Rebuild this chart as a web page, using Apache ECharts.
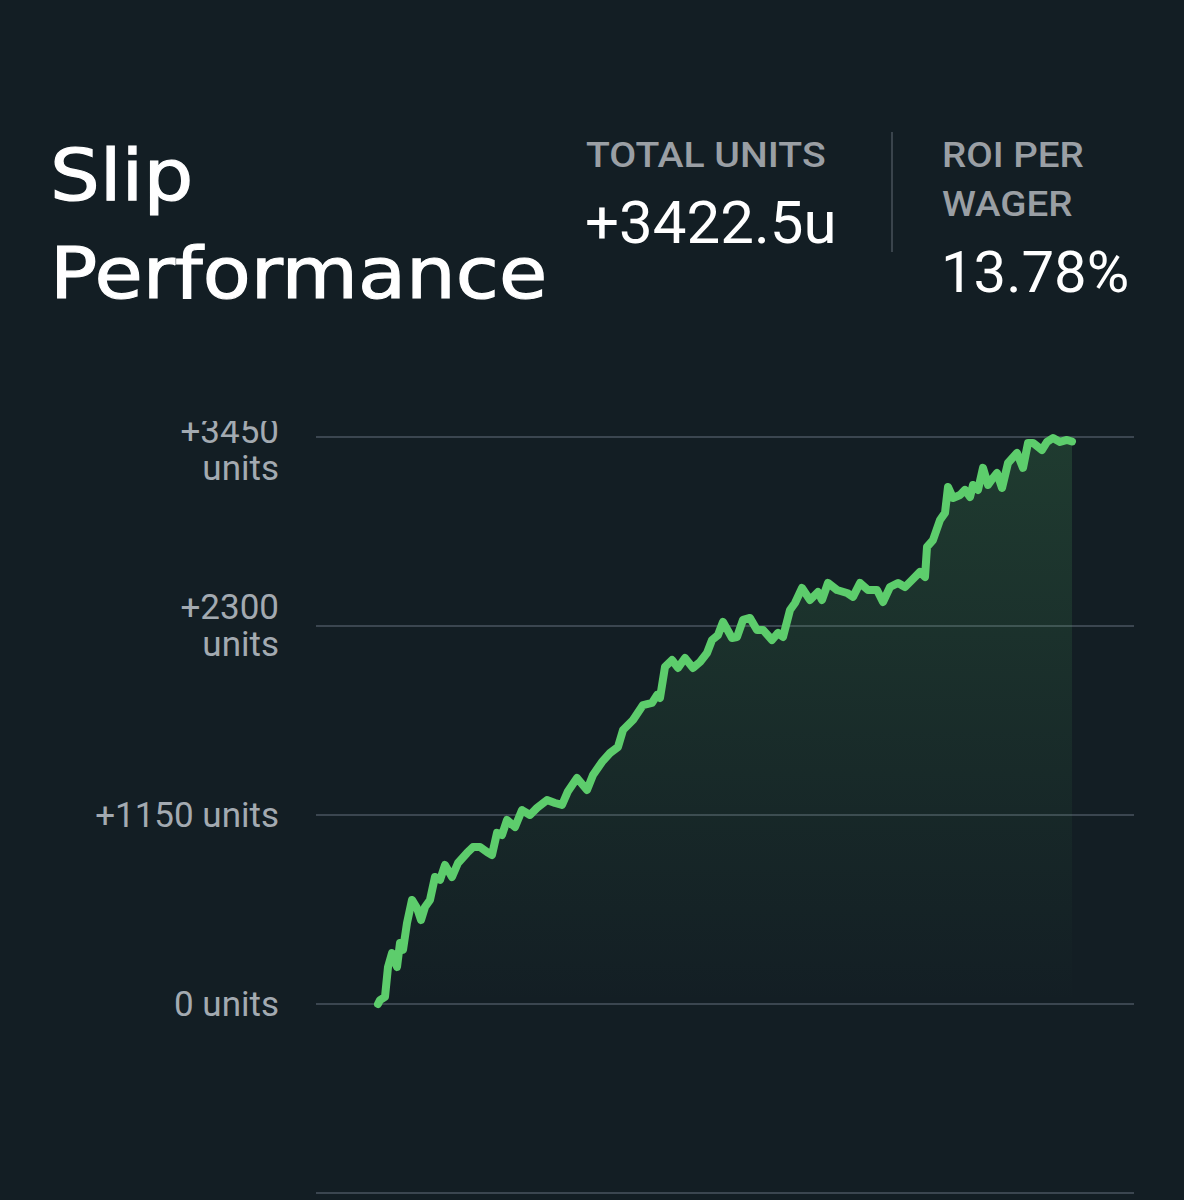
<!DOCTYPE html>
<html>
<head>
<meta charset="utf-8">
<script src="https://cdn.jsdelivr.net/npm/echarts@6/dist/echarts.min.js"></script>
<style>
html,body{margin:0;padding:0;background:#131e24;}
#chart{width:1184px;height:1200px;}
</style>
</head>
<body>
<div id="chart"></div>
<script>
// Wager index (x) and cumulative units (y)
const wagerIndex = [0,2,7,10,14,19,22,25,29,34,39,43,47,52,57,62,67,74,80,89,95,102,109,114,119,124,129,137,144,152,159,169,177,184,190,199,209,215,224,232,240,245,255,265,274,279,282,287,294,300,307,315,322,329,334,340,345,354,359,365,372,379,385,394,400,405,412,417,424,432,440,444,450,459,469,475,482,490,499,505,512,520,527,534,542,547,549,555,562,567,570,575,582,587,592,595,600,605,610,615,619,624,630,639,645,650,655,664,669,675,682,689,694];
const cumulativeUnits = [0,24,43,225,310,225,371,329,493,633,584,511,590,633,773,755,846,773,858,919,955,955,925,907,1041,1028,1120,1077,1180,1150,1193,1241,1223,1211,1295,1375,1302,1393,1473,1527,1564,1667,1728,1819,1832,1880,1862,2051,2093,2045,2105,2045,2081,2136,2215,2245,2325,2227,2233,2337,2349,2276,2276,2215,2258,2233,2397,2440,2531,2458,2507,2458,2562,2519,2501,2477,2562,2519,2519,2446,2537,2562,2537,2580,2629,2598,2781,2823,2945,2988,3146,3079,3097,3128,3085,3158,3128,3262,3158,3201,3231,3140,3292,3353,3262,3414,3414,3371,3420,3444,3420,3432,3422.5];
const yTicks = [-1150, 0, 1150, 2300, 3450];
const yTickLabels = ['', '0 units', '+1150 units', '+2300\nunits', '+3450\nunits'];
const titleLines = ['Slip', 'Performance'];
const statTotalLabel = 'TOTAL UNITS';
const statTotalValue = '+3422.5u';
const statRoiLabel = ['ROI PER', 'WAGER'];
const statRoiValue = '13.78%';

const seriesData = wagerIndex.map((x, i) => [x, cumulativeUnits[i]]);

const chart = echarts.init(document.getElementById('chart'), null, {renderer: 'svg'});

const labelColor = '#a3aab1';
const option = {
  backgroundColor: '#131e24',
  animation: false,
  grid: {left: 316, right: 50, top: 437, bottom: 7, containLabel: false},
  xAxis: {
    type: 'value', min: -62, max: 756,
    show: false
  },
  yAxis: {
    type: 'value', min: -1150, max: 3450, interval: 1150,
    axisLine: {show: false}, axisTick: {show: false},
    splitLine: {lineStyle: {color: '#3b4650', width: 2}},
    axisLabel: {
      margin: 37,
      color: labelColor,
      fontFamily: 'Roboto',
      fontSize: 35,
      lineHeight: 37,
      formatter: function (v) {
        const i = yTicks.indexOf(v);
        const t = i >= 0 ? yTickLabels[i] : '';
        if (v === 3450) {
          const parts = t.split('\n');
          return '{g| }\n{n|' + parts[0] + '}\n{n|' + parts[1] + '}';
        }
        return t;
      },
      rich: {
        g: {fontSize: 2, lineHeight: 26},
        n: {color: labelColor, fontFamily: 'Roboto', fontSize: 35, lineHeight: 37, align: 'right'}
      }
    }
  },
  series: [{
    type: 'line',
    data: seriesData,
    showSymbol: false,
    symbol: 'none',
    lineStyle: {color: '#5dcd6c', width: 8, cap: 'round', join: 'round'},
    areaStyle: {
      color: new echarts.graphic.LinearGradient(0, 0, 0, 1, [
        {offset: 0, color: 'rgba(92,203,107,0.24)'},
        {offset: 1, color: 'rgba(92,203,107,0)'}
      ])
    }
  }],
  graphic: [
    {type: 'rect', z: 100, shape: {x: 150, y: 380, width: 150, height: 41}, style: {fill: '#131e24'}},
    {type: 'text', z: 100, x: 50, y: 175, scaleX: 1.09, style: {text: titleLines[0], x: 0, y: 0, verticalAlign: 'middle', fill: '#ffffff', stroke: '#ffffff', lineWidth: 1.2, fontFamily: 'DejaVu Sans', fontSize: 72}},
    {type: 'text', z: 100, x: 50, y: 273, scaleX: 1.09, style: {text: titleLines[1], x: 0, y: 0, verticalAlign: 'middle', fill: '#ffffff', stroke: '#ffffff', lineWidth: 1.2, fontFamily: 'DejaVu Sans', fontSize: 72}},
    {type: 'text', z: 100, x: 586, y: 155, scaleX: 1.12, style: {text: statTotalLabel, x: 0, y: 0, verticalAlign: 'middle', fill: '#9a9fa4', fontFamily: 'Roboto', fontSize: 35, fontWeight: 500}},
    {type: 'text', z: 100, style: {text: statTotalValue, x: 585, y: 222, verticalAlign: 'middle', fill: '#ffffff', fontFamily: 'Roboto', fontSize: 60, fontWeight: 'normal'}},
    {type: 'rect', z: 100, shape: {x: 891, y: 132, width: 2, height: 120}, style: {fill: '#3a444c'}},
    {type: 'text', z: 100, x: 942, y: 155, scaleX: 1.1, style: {text: statRoiLabel[0], x: 0, y: 0, verticalAlign: 'middle', fill: '#9a9fa4', fontFamily: 'Roboto', fontSize: 35, fontWeight: 500}},
    {type: 'text', z: 100, x: 942, y: 204, scaleX: 1.1, style: {text: statRoiLabel[1], x: 0, y: 0, verticalAlign: 'middle', fill: '#9a9fa4', fontFamily: 'Roboto', fontSize: 35, fontWeight: 500}},
    {type: 'text', z: 100, style: {text: statRoiValue, x: 941, y: 272, verticalAlign: 'middle', fill: '#ffffff', fontFamily: 'Roboto', fontSize: 58, fontWeight: 'normal'}}
  ]
};
chart.setOption(option);
</script>
</body>
</html>
